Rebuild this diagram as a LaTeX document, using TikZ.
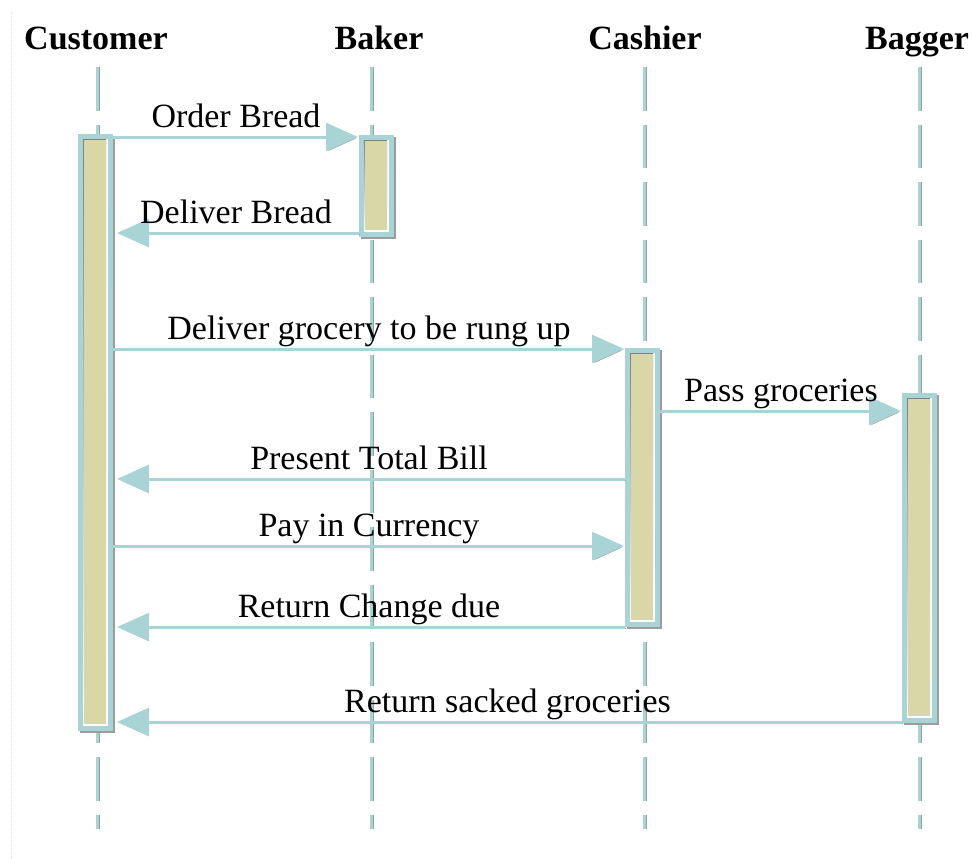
\documentclass[tikz,border=0pt]{standalone}
\usepackage{fontspec}
\setmainfont{Liberation Serif}
\usetikzlibrary{arrows.meta,calc}
\definecolor{lineblue}{HTML}{A9D4D6}
\definecolor{barfill}{HTML}{D9D6A8}
\definecolor{shade}{HTML}{9C9C9C}

\begin{document}
\begin{tikzpicture}[x=1pt,y=-1pt,
  head/.style={anchor=base, inner sep=0pt, font=\fontsize{34}{40}\selectfont\bfseries},
  lbl/.style={midway, anchor=base, yshift=10pt, inner sep=0pt, font=\fontsize{34}{40}\selectfont},
  life/.style={draw=lineblue, line width=3pt, dash pattern=on 43.5pt off 14pt},
  lifeshade/.style={draw=shade, line width=1.2pt, dash pattern=on 43.5pt off 14pt},
  actbox/.style={rectangle, anchor=north west, inner sep=0pt, outer sep=0pt,
    minimum width=35pt, fill=lineblue,
    preaction={fill=shade, transform canvas={shift={(2pt,-2pt)}}},
    path picture={
      \fill[white] ([shift={(5pt,5pt)}]path picture bounding box.south west)
        rectangle ([shift={(-5pt,-5pt)}]path picture bounding box.north east);
      \fill[shade] ([shift={(5pt,7pt)}]path picture bounding box.south west)
        rectangle ([shift={(-7pt,-5pt)}]path picture bounding box.north east);
      \fill[barfill] ([shift={(6pt,7pt)}]path picture bounding box.south west)
        rectangle ([shift={(-7pt,-6pt)}]path picture bounding box.north east);
    }},
  msg/.style={draw=lineblue, line width=3pt,
    -{Triangle[length=32pt,width=28pt]},
    preaction={draw=shade, transform canvas={shift={(1pt,-1.5pt)}}}},
]
\useasboundingbox (0,0) rectangle (972,859);

% faint dotted rule along the left margin
\draw[black!12, line width=1pt, dash pattern=on 1pt off 1pt] (11,12) -- (11,859);

% participant headings
\node[head] (hcust)  at (96,50)  {Customer};
\node[head] (hbaker) at (379,50) {Baker};
\node[head] (hcash)  at (645,50) {Cashier};
\node[head] (hbag)   at (917,50) {Bagger};

% lifelines
\foreach \n/\x in {cust/97, baker/371, cash/644, bag/919.5} {
  \coordinate (\n-top) at (\x,67);
  \coordinate (\n-bot) at (\x,829);
  \draw[lifeshade] ([xshift=2pt]\n-top) -- ([xshift=2pt]\n-bot);
  \draw[life] (\n-top) -- (\n-bot);
}

% activation bars
\node[actbox, minimum height=597pt] (acust)  at (78,134)  {};
\node[actbox, minimum height=102pt] (abaker) at (359,135) {};
\node[actbox, minimum height=279pt] (acash)  at (625,348) {};
\node[actbox, minimum height=330pt] (abag)   at (902,393) {};

% messages
\draw[msg, shorten >=1pt] (acust.east |- 0,137) -- node[lbl] {Order Bread} (abaker.west |- 0,137);
\draw[msg, shorten >=4pt] (abaker.west |- 0,233) -- node[lbl] {Deliver Bread} (acust.east |- 0,233);
\draw[msg, shorten >=1pt] (acust.east |- 0,349) -- node[lbl] {Deliver grocery to be rung up} (acash.west |- 0,349);
\draw[msg, shorten >=1pt] (acash.east |- 0,411) -- node[lbl] {Pass groceries} (abag.west |- 0,411);
\draw[msg, shorten >=4pt] (acash.west |- 0,479) -- node[lbl] {Present Total Bill} (acust.east |- 0,479);
\draw[msg, shorten >=1pt] (acust.east |- 0,546) -- node[lbl] {Pay in Currency} (acash.west |- 0,546);
\draw[msg, shorten >=4pt] (acash.west |- 0,627) -- node[lbl] {Return Change due} (acust.east |- 0,627);
\draw[msg, shorten >=4pt] (abag.west |- 0,722) -- node[lbl] {Return sacked groceries} (acust.east |- 0,722);
\end{tikzpicture}
\end{document}
